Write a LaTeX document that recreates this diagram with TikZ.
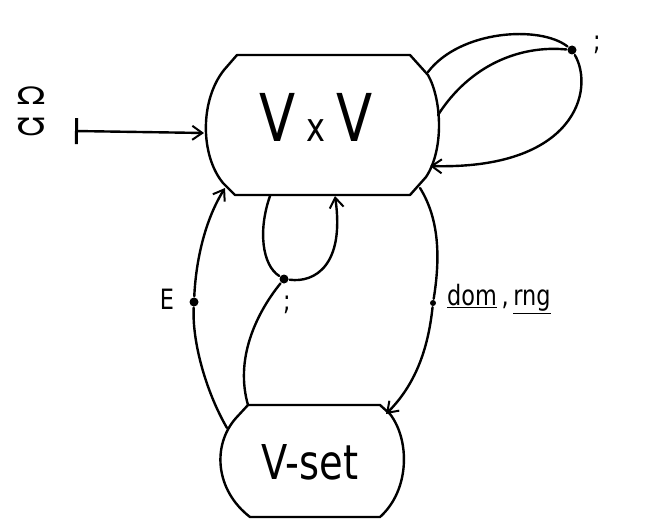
\documentclass[tikz,border=0pt]{standalone}
\usepackage{fontspec}
\usepackage{graphicx}
\setmainfont{DejaVu Sans}
\newfontfamily\handfont[FakeStretch=0.8]{DejaVu Sans}
\usetikzlibrary{arrows.meta}
\begin{document}
\begin{tikzpicture}[x=1pt,y=-1pt,
  line width=2.4pt, line cap=round, line join=round,
  tip/.style={-{Straight Barb[length=10pt,width=14pt,line width=2pt]}},
  dotnode/.style={circle,fill,inner sep=0pt,minimum size=9pt},
  lbl/.style={inner sep=0pt,font=\handfont\fontsize{28}{28}\selectfont}]
\useasboundingbox (0,0) rectangle (656,519);
% V x V box
\draw (237,55) -- (410,55) -- (428,75)
  .. controls (442,100) and (444,150) .. (426,177) -- (410,195)
  -- (235,195) -- (223,183) .. controls (200,155) and (200,100) .. (224,70) -- cycle;
\node[inner sep=0pt,font=\handfont\fontsize{66}{66}\selectfont] (vv) at (316,117) {V\,{\fontsize{40}{40}\selectfont x}\,V};
% V-set box
\draw (248,405) -- (380,405) -- (390,414)
  .. controls (410,440) and (410,490) .. (380,517) -- (250,517)
  .. controls (215,490) and (212,445) .. (236,418) -- cycle;
\node[inner sep=0pt,font=\handfont\fontsize{48}{48}\selectfont] (vs) at (310,462) {V-set};
% named coordinates on the boxes
\coordinate (vvL) at (204,133);
\coordinate (vvT1) at (428,72);
\coordinate (vvR1) at (438,115);
\coordinate (vvR2) at (430,166);
\coordinate (vvB1) at (225,188);
\coordinate (vvB2) at (270,196);
\coordinate (vvB3) at (335,196);
\coordinate (vvB4) at (420,188);
\coordinate (vsT1) at (227,428);
\coordinate (vsT2) at (248,405);
\coordinate (vsT3) at (386,414);
% initial arrow
\coordinate (init) at (75,131);
\draw[{Bar[width=26pt,line width=3pt]}-{Straight Barb[length=10pt,width=14pt,line width=2pt]}] (init) -- (vvL);
\node[inner sep=0pt,font=\fontsize{24}{24}\selectfont] (om1) at (31,96) {\scalebox{1.6}[1]{Ω}};
\node[inner sep=0pt,font=\fontsize{24}{24}\selectfont] (om2) at (31,127) {\scalebox{1.6}[1]{℧}};
% self loop with ;
\node[dotnode] (d1) at (572,50) {};
\node[lbl] (l1) at (597,45) {;};
\draw (vvT1) .. controls (460,30) and (540,25) .. (d1);
\draw (vvR1) .. controls (470,65) and (520,45) .. (d1);
\draw[tip] (d1) .. controls (595,90) and (575,170) .. (vvR2);
% E
\node[dotnode] (dE) at (194,302) {};
\node[lbl] (lE) at (167,299) {E};
\draw (vsT1) .. controls (205,390) and (192,340) .. (dE);
\draw[tip] (dE) .. controls (196,260) and (205,220) .. (vvB1);
% middle ;
\node[dotnode] (d2) at (284,279) {};
\node[lbl] (l2) at (287,305) {;};
\draw (vsT2) .. controls (235,360) and (255,315) .. (d2);
\draw (vvB2) .. controls (258,230) and (262,265) .. (d2);
\draw[tip] (d2) .. controls (315,283) and (345,265) .. (vvB3);
% dom, rng
\node[dotnode,minimum size=6pt] (d3) at (433,303) {};
\node[lbl,anchor=west] (l3) at (446,299) {\underline{dom}\,,\,\underline{rng}};
\draw (vvB4) .. controls (440,220) and (440,260) .. (d3);
\draw[tip] (d3) .. controls (428,350) and (415,385) .. (vsT3);
\end{tikzpicture}
\end{document}
